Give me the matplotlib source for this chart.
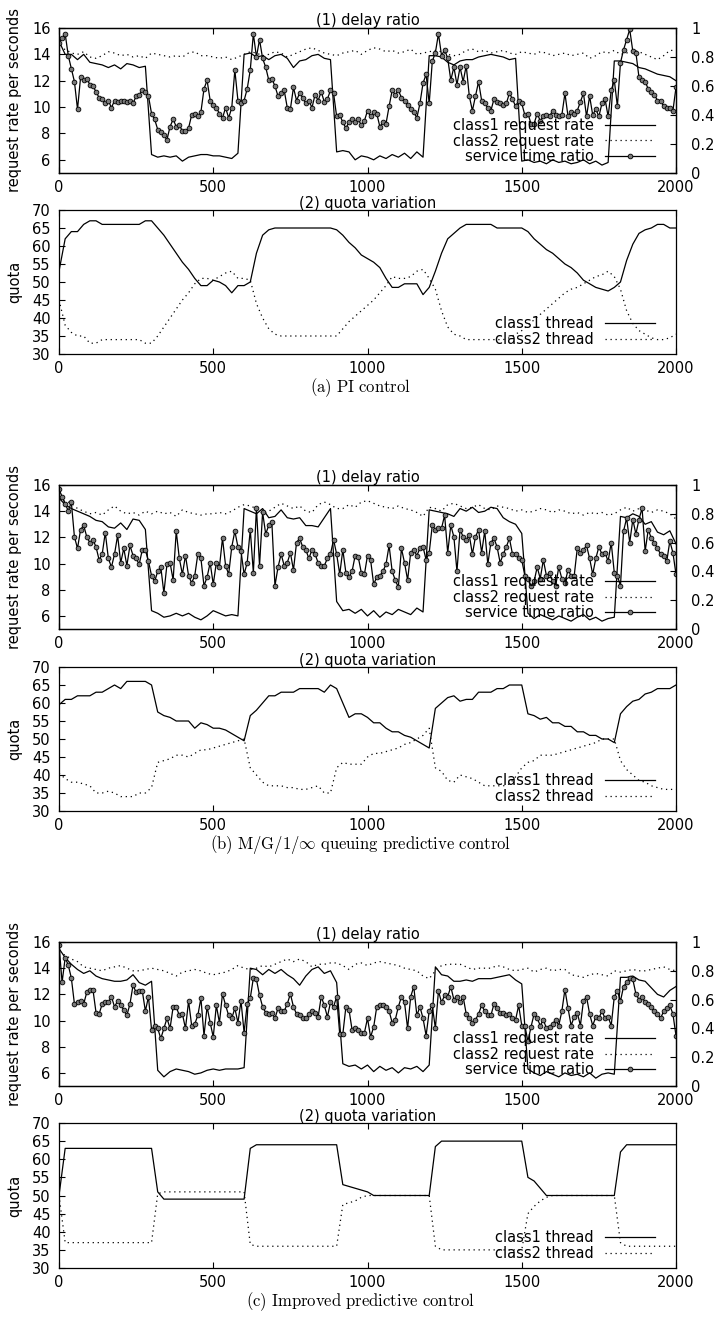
import matplotlib.pyplot as plt
import numpy as np
from matplotlib.ticker import FixedFormatter, FixedLocator

plt.rcParams['font.family'] = ['DejaVu Sans']
plt.rcParams['mathtext.fontset'] = 'cm'
plt.rcParams['font.size'] = 10.5

# ---- donnees communes ----
X_TICKS = [0, 500, 1000, 1500, 2000]
RATE_TICKS = [6, 8, 10, 12, 14, 16]
RATIO_TICKS = [0, 0.2, 0.4, 0.6, 0.8, 1]
RATIO_LABELS = ['0', '0.2', '0.4', '0.6', '0.8', '1']
QUOTA_TICKS = [30, 35, 40, 45, 50, 55, 60, 65, 70]
LEG_HAUT = ['class1 request rate', 'class2 request rate', 'service time ratio']
LEG_BAS = ['class1 thread', 'class2 thread']
CAPTIONS = [r'$\mathrm{(a)\ PI\ control}$',
            r'$\mathrm{(b)\ M/G/1/}\infty\mathrm{\ queuing\ predictive\ control}$',
            r'$\mathrm{(c)\ Improved\ predictive\ control}$']
STEP_RATE = 20   # pas des series de debit et de quota
STEP_RATIO = 10  # pas de la serie service time ratio

# ---- (a) PI control ----
a_c1 = [15.0, 14.0, 14.0, 13.6, 14.0, 13.4, 13.3, 13.2, 13.0, 13.2,
        12.9, 13.3, 13.2, 13.0, 13.1, 6.4, 6.2, 6.3, 6.2, 6.3,
        5.9, 6.2, 6.3, 6.4, 6.4, 6.3, 6.3, 6.2, 6.1, 6.5,
        14.0, 14.1, 13.8, 13.9, 13.6, 13.9, 14.0, 13.7, 13.0, 13.5,
        13.6, 13.9, 14.0, 13.7, 13.6, 6.6, 6.7, 6.6, 6.0, 6.3,
        6.2, 6.0, 6.3, 6.1, 6.4, 6.2, 6.5, 6.1, 6.6, 6.2,
        13.9, 13.9, 13.8, 13.4, 13.2, 13.5, 13.6, 13.6, 13.8, 13.9,
        14.0, 13.9, 13.8, 13.6, 13.7, 5.9, 6.0, 5.8, 5.9, 5.7,
        6.0, 5.8, 5.9, 5.7, 5.8, 6.0, 5.7, 5.9, 5.6, 5.8,
        13.5, 13.5, 13.4, 13.3, 13.0, 12.9, 12.7, 12.5, 12.4, 12.3,
        12.0]
a_c2 = [14.3, 14.4, 14.1, 14.0, 14.2, 13.8, 13.7, 13.9, 14.2, 14.1,
        13.9, 14.0, 13.8, 13.9, 13.7, 14.1, 14.0, 13.9, 13.8, 13.9,
        13.8, 14.1, 14.2, 13.9, 13.9, 13.8, 13.7, 13.8, 13.6, 13.8,
        14.0, 14.2, 14.1, 13.9, 14.0, 14.2, 14.1, 13.8, 14.0, 14.2,
        14.4, 14.5, 14.3, 14.1, 14.0, 13.9, 14.1, 14.2, 14.3, 14.0,
        14.3, 14.5, 14.4, 14.2, 14.3, 14.1, 14.2, 14.4, 14.0, 14.1,
        14.2, 14.3, 14.2, 14.0, 13.9, 14.0, 14.3, 14.4, 14.2, 14.3,
        14.1, 14.2, 14.3, 14.1, 14.0, 14.2, 14.1, 14.0, 14.2, 14.1,
        13.9, 14.0, 14.1, 13.9, 14.0, 14.1, 13.7, 13.9, 14.2, 14.1,
        14.3, 14.0, 14.1, 14.3, 14.2, 14.0, 13.8, 13.6, 13.9, 14.3,
        14.3]
a_ratio = [0.90, 0.93, 0.96, 0.81, 0.72, 0.63, 0.44, 0.66, 0.64, 0.65,
           0.61, 0.60, 0.56, 0.52, 0.51, 0.48, 0.50, 0.45, 0.50, 0.49,
           0.50, 0.50, 0.49, 0.50, 0.48, 0.53, 0.54, 0.57, 0.56, 0.53,
           0.41, 0.37, 0.30, 0.28, 0.26, 0.23, 0.32, 0.37, 0.32, 0.33,
           0.29, 0.29, 0.31, 0.40, 0.41, 0.39, 0.42, 0.58, 0.64, 0.50,
           0.47, 0.45, 0.41, 0.38, 0.45, 0.38, 0.45, 0.71, 0.50, 0.48,
           0.50, 0.58, 0.71, 0.96, 0.80, 0.92, 0.79, 0.73, 0.64, 0.65,
           0.60, 0.53, 0.55, 0.57, 0.45, 0.44, 0.59, 0.50, 0.55, 0.52,
           0.48, 0.50, 0.45, 0.54, 0.50, 0.56, 0.49, 0.51, 0.57, 0.55,
           0.39, 0.40, 0.35, 0.31, 0.35, 0.37, 0.35, 0.37, 0.33, 0.36,
           0.43, 0.39, 0.42, 0.41, 0.32, 0.35, 0.34, 0.46, 0.57, 0.54,
           0.57, 0.52, 0.50, 0.47, 0.44, 0.42, 0.38, 0.48, 0.62, 0.68,
           0.48, 0.77, 0.83, 0.96, 0.81, 0.85, 0.79, 0.64, 0.73, 0.61,
           0.73, 0.63, 0.74, 0.53, 0.43, 0.53, 0.63, 0.50, 0.48, 0.45,
           0.43, 0.51, 0.49, 0.48, 0.47, 0.48, 0.55, 0.51, 0.46, 0.50,
           0.48, 0.40, 0.41, 0.34, 0.34, 0.41, 0.36, 0.39, 0.40, 0.39,
           0.43, 0.40, 0.39, 0.40, 0.55, 0.39, 0.42, 0.41, 0.43, 0.49,
           0.55, 0.39, 0.53, 0.40, 0.44, 0.39, 0.48, 0.51, 0.39, 0.57,
           0.64, 0.46, 0.76, 0.85, 0.92, 0.99, 0.84, 0.83, 0.66, 0.64,
           0.63, 0.58, 0.56, 0.54, 0.50, 0.50, 0.46, 0.45, 0.45, 0.43,
           0.59]
a_q1 = [53, 62, 64, 64, 66, 67, 67, 66, 66, 66,
        66, 66, 66, 66, 67, 67, 65, 63, 60.5, 58,
        55.5, 53.5, 51, 49, 49, 50.5, 50, 49, 47, 49,
        49, 50, 58, 63, 64.5, 65, 65, 65, 65, 65,
        65, 65, 65, 65, 65, 64.5, 63, 61, 59.5, 57.5,
        56.5, 55.5, 54, 51, 48.5, 48.5, 49.5, 49.5, 49.5, 46.5,
        48.5, 53, 58, 62, 63.5, 65, 66, 66, 66, 66,
        66, 65, 65, 65, 65, 65, 64, 62, 60.5, 59,
        58, 56.5, 55, 54, 52.5, 50.5, 49.5, 48.5, 48, 47.5,
        48.5, 50, 56, 60.5, 63.5, 64.5, 65, 66, 66, 65,
        65]
a_q2 = [45, 38, 36, 35, 35, 33, 33, 34, 34, 34,
        34, 34, 34, 34, 33, 33, 35, 37.5, 40, 42.5,
        45, 47, 49.5, 51, 51, 50.5, 51.5, 52.5, 53, 51,
        51, 50.5, 44, 40, 37, 35.5, 35, 35, 35, 35,
        35, 35, 35, 35, 35, 35, 37, 39, 40.5, 42,
        43.5, 45, 47, 49, 51.5, 51, 51, 51.5, 53, 53.5,
        51, 48, 42, 37.5, 35.5, 35, 34, 34, 34, 34,
        34, 34, 34, 34.5, 35.5, 36.5, 38, 39.5, 41, 42.5,
        44, 45.5, 47, 48, 48.5, 49.5, 50.5, 51.5, 52, 53,
        51.5, 48, 42, 38.5, 36.5, 35.5, 34.5, 34, 34, 34.5,
        35.5]

# ---- (b) M/G/1 predictive control ----
b_c1 = [15.0, 14.5, 14.2, 14.0, 13.8, 13.6, 13.3, 13.2, 12.8, 12.7,
        13.1, 12.6, 13.4, 13.3, 12.6, 6.4, 6.2, 5.9, 6.0, 6.2,
        6.0, 6.2, 5.9, 5.7, 6.0, 6.4, 6.2, 6.0, 6.1, 6.0,
        14.2, 14.0, 13.8, 14.2, 13.5, 13.6, 14.1, 13.5, 13.4, 13.5,
        12.9, 12.9, 12.8, 13.5, 14.2, 7.1, 6.4, 6.5, 6.2, 6.5,
        6.0, 6.4, 5.9, 6.3, 6.1, 6.5, 6.3, 6.1, 6.6, 6.3,
        14.1, 14.0, 13.9, 13.8, 13.6, 14.2, 14.0, 14.3, 13.9, 14.0,
        14.3, 14.2, 13.5, 13.2, 13.0, 12.3, 6.2, 5.8, 6.1, 5.9,
        5.7, 6.0, 5.8, 5.6, 5.9, 6.1, 5.7, 5.9, 5.6, 5.8,
        5.9, 13.6, 13.5, 13.8, 13.6, 13.0, 13.2, 12.4, 12.2, 12.5,
        11.5]
b_c2 = [14.6, 14.8, 14.6, 14.2, 14.0, 13.8, 13.9, 13.7, 14.1, 14.4,
        14.0, 13.8, 13.9, 13.7, 14.0, 13.8, 14.0, 13.8, 13.9, 13.6,
        14.1, 13.9, 13.8, 13.7, 13.8, 13.8, 13.9, 13.8, 14.0, 14.3,
        14.5, 14.4, 14.2, 13.8, 14.0, 14.3, 14.6, 14.4, 14.2, 14.4,
        14.0, 13.9, 14.5, 14.7, 14.5, 14.2, 14.2, 14.5, 14.3, 14.7,
        14.8, 14.6, 14.4, 14.3, 14.2, 14.4, 14.2, 14.1, 13.9, 13.6,
        14.3, 14.2, 14.0, 14.5, 14.6, 14.4, 14.2, 14.3, 14.5, 14.2,
        14.1, 14.4, 14.3, 14.2, 14.0, 14.1, 13.9, 14.0, 14.2, 14.1,
        13.9, 14.1, 14.0, 13.8, 13.9, 13.7, 13.9, 13.8, 13.9, 13.7,
        13.8, 14.1, 14.3, 14.0, 14.2, 14.1, 13.9, 14.1, 14.0, 13.8,
        13.4]
b_ratio = [0.97, 0.92, 0.87, 0.82, 0.88, 0.64, 0.56, 0.69, 0.72, 0.64,
           0.60, 0.62, 0.57, 0.48, 0.52, 0.67, 0.49, 0.43, 0.52, 0.65,
           0.46, 0.56, 0.44, 0.58, 0.51, 0.49, 0.45, 0.55, 0.55, 0.47,
           0.37, 0.33, 0.40, 0.43, 0.25, 0.45, 0.46, 0.34, 0.68, 0.49,
           0.38, 0.51, 0.37, 0.32, 0.37, 0.52, 0.49, 0.30, 0.36, 0.46,
           0.31, 0.46, 0.43, 0.63, 0.44, 0.38, 0.57, 0.68, 0.57, 0.54,
           0.38, 0.46, 0.69, 0.39, 0.84, 0.44, 0.81, 0.66, 0.72, 0.74,
           0.30, 0.43, 0.52, 0.44, 0.46, 0.53, 0.41, 0.60, 0.63, 0.57,
           0.55, 0.49, 0.55, 0.52, 0.46, 0.44, 0.44, 0.49, 0.52, 0.62,
           0.52, 0.38, 0.55, 0.39, 0.36, 0.40, 0.51, 0.50, 0.39, 0.38,
           0.51, 0.48, 0.31, 0.36, 0.37, 0.40, 0.45, 0.58, 0.40, 0.34,
           0.29, 0.56, 0.46, 0.34, 0.53, 0.55, 0.51, 0.56, 0.57, 0.48,
           0.53, 0.72, 0.69, 0.70, 0.70, 0.79, 0.53, 0.72, 0.64, 0.40,
           0.69, 0.64, 0.62, 0.65, 0.52, 0.64, 0.69, 0.53, 0.68, 0.45,
           0.60, 0.63, 0.57, 0.46, 0.52, 0.57, 0.63, 0.52, 0.52, 0.49,
           0.48, 0.37, 0.35, 0.30, 0.33, 0.43, 0.35, 0.48, 0.37, 0.39,
           0.33, 0.30, 0.43, 0.35, 0.32, 0.41, 0.37, 0.37, 0.56, 0.53,
           0.55, 0.58, 0.49, 0.38, 0.49, 0.57, 0.52, 0.53, 0.47, 0.60,
           0.39, 0.37, 0.30, 0.68, 0.77, 0.60, 0.76, 0.66, 0.76, 0.84,
           0.54, 0.69, 0.63, 0.60, 0.56, 0.52, 0.51, 0.47, 0.61, 0.53,
           0.38]
b_q1 = [59.5, 61, 61, 62, 62, 62, 63, 63, 64, 65,
        64, 66, 66, 66, 66, 65, 57.5, 56.5, 56, 55,
        55, 55, 53, 54.5, 54, 53, 53, 52.5, 51.5, 50.5,
        49.5, 56.5, 58, 60, 62, 62, 63, 63, 63, 64,
        64, 64, 64, 63, 65, 64, 60, 56, 57, 57,
        56, 54.5, 54.5, 53, 52, 52, 51, 50.5, 49.5, 48.5,
        47.5, 58.5, 60, 61.5, 62, 60.5, 61, 61, 63, 63,
        63, 64, 64, 65, 65, 65, 57, 56.5, 55.5, 56,
        54.5, 54.5, 53.5, 53.5, 52, 52, 51, 51, 50, 50,
        49, 57, 59, 60.5, 61, 62.5, 63, 64, 64, 64,
        65]
b_q2 = [40.5, 39, 38, 38, 37.5, 37, 35, 35, 35.5, 35,
        34, 34, 34, 35, 35, 36.5, 43.5, 44, 44.5, 45.5,
        45.5, 45, 46, 47, 47, 47.5, 48, 48.5, 49, 49.5,
        50, 42, 40, 38, 37, 37, 37, 36.5, 36.5, 36,
        36, 36.5, 37, 35, 35, 42, 43.5, 43, 43, 43,
        45, 46, 46, 46.5, 47, 47.5, 48.5, 49, 50, 51,
        53, 42, 41, 38.5, 38, 40, 39.5, 39, 38, 37,
        37, 37, 37, 37.5, 39.5, 42, 43.5, 44, 45.5, 45.5,
        45.5, 46, 46.5, 47, 47.5, 48, 48.5, 49, 50, 50,
        50, 44, 41.5, 40, 38.5, 38, 37, 36.5, 36, 36,
        36]

# ---- (c) Improved predictive control ----
c_c1 = [15.5, 14.8, 14.3, 13.9, 13.6, 13.8, 13.4, 13.2, 13.1, 13.0,
        13.0, 13.1, 13.5, 12.9, 12.7, 13.0, 6.2, 5.7, 6.1, 6.3,
        6.2, 6.1, 5.9, 6.0, 6.2, 6.3, 6.2, 6.3, 6.3, 6.3,
        6.4, 14.0, 13.9, 13.5, 13.9, 13.6, 13.9, 13.5, 13.2, 12.7,
        13.4, 13.9, 14.1, 13.6, 13.8, 12.9, 6.7, 6.5, 6.6, 6.3,
        6.6, 6.1, 6.5, 6.2, 6.4, 6.0, 6.4, 6.3, 6.5, 6.1,
        6.6, 14.1, 13.5, 13.4, 13.0, 13.0, 13.1, 13.0, 13.2, 13.2,
        13.2, 13.3, 13.4, 13.5, 13.1, 12.8, 6.3, 6.0, 5.8, 6.1,
        5.9, 5.7, 6.0, 5.8, 5.9, 5.7, 6.0, 5.6, 5.9, 6.0,
        5.9, 13.3, 13.3, 13.4, 13.1, 13.0, 12.5, 12.0, 11.8, 12.3,
        12.6]
c_c2 = [15.2, 15.0, 14.7, 14.5, 14.1, 14.0, 13.9, 13.8, 14.0, 14.1,
        14.2, 14.0, 13.8, 13.8, 13.9, 14.0, 13.9, 13.8, 13.6, 13.4,
        13.7, 13.8, 13.9, 13.8, 13.6, 13.5, 13.6, 13.7, 13.9, 14.2,
        14.0, 13.9, 14.0, 14.2, 14.1, 14.3, 14.5, 14.7, 14.5, 14.7,
        14.5, 14.1, 14.3, 14.3, 14.4, 14.4, 14.2, 13.9, 14.3, 14.4,
        14.2, 14.4, 14.5, 14.4, 14.3, 14.2, 14.0, 13.9, 13.8, 13.4,
        13.2, 13.8, 14.2, 14.3, 14.3, 14.3, 14.1, 13.9, 14.0, 14.0,
        14.0, 14.2, 14.1, 13.9, 13.8, 13.9, 14.0, 13.7, 13.9, 14.0,
        13.8, 13.9, 13.9, 13.5, 13.4, 13.3, 13.5, 13.6, 13.5, 13.4,
        13.8, 13.7, 13.8, 13.9, 13.8, 13.8, 13.9, 14.0, 14.1, 13.9,
        13.8]
c_ratio = [0.98, 0.72, 0.89, 0.84, 0.75, 0.57, 0.58, 0.59, 0.57, 0.65,
           0.67, 0.67, 0.51, 0.50, 0.57, 0.58, 0.58, 0.62, 0.55, 0.59,
           0.56, 0.53, 0.49, 0.57, 0.70, 0.65, 0.66, 0.66, 0.52, 0.62,
           0.39, 0.42, 0.40, 0.33, 0.40, 0.47, 0.40, 0.55, 0.55, 0.49,
           0.50, 0.40, 0.59, 0.42, 0.43, 0.49, 0.61, 0.35, 0.55, 0.44,
           0.34, 0.56, 0.44, 0.64, 0.56, 0.49, 0.47, 0.54, 0.44, 0.59,
           0.37, 0.57, 0.61, 0.75, 0.74, 0.63, 0.55, 0.51, 0.50, 0.51,
           0.47, 0.54, 0.52, 0.52, 0.57, 0.64, 0.55, 0.50, 0.49, 0.47,
           0.47, 0.50, 0.52, 0.51, 0.48, 0.62, 0.56, 0.48, 0.58, 0.55,
           0.62, 0.36, 0.36, 0.55, 0.53, 0.39, 0.40, 0.39, 0.37, 0.37,
           0.47, 0.34, 0.41, 0.55, 0.56, 0.56, 0.55, 0.52, 0.44, 0.46,
           0.55, 0.62, 0.58, 0.40, 0.62, 0.69, 0.49, 0.55, 0.47, 0.35,
           0.52, 0.56, 0.40, 0.66, 0.58, 0.63, 0.62, 0.69, 0.60, 0.62,
           0.58, 0.62, 0.50, 0.47, 0.44, 0.46, 0.50, 0.56, 0.52, 0.49,
           0.49, 0.57, 0.54, 0.51, 0.51, 0.49, 0.50, 0.47, 0.46, 0.56,
           0.42, 0.42, 0.31, 0.41, 0.50, 0.47, 0.42, 0.46, 0.40, 0.41,
           0.43, 0.46, 0.42, 0.52, 0.67, 0.54, 0.42, 0.48, 0.51, 0.42,
           0.59, 0.62, 0.50, 0.42, 0.48, 0.47, 0.52, 0.47, 0.48, 0.42,
           0.62, 0.66, 0.59, 0.69, 0.72, 0.75, 0.74, 0.64, 0.60, 0.62,
           0.58, 0.57, 0.55, 0.52, 0.50, 0.47, 0.52, 0.54, 0.56, 0.50,
           0.35]
c_q1 = [50, 63, 63, 63, 63, 63, 63, 63, 63, 63,
        63, 63, 63, 63, 63, 63, 51, 49, 49, 49,
        49, 49, 49, 49, 49, 49, 49, 49, 49, 49,
        49, 63, 64, 64, 64, 64, 64, 64, 64, 64,
        64, 64, 64, 64, 64, 64, 53, 52.5, 52, 51.5,
        51, 50, 50, 50, 50, 50, 50, 50, 50, 50,
        50, 63.5, 65, 65, 65, 65, 65, 65, 65, 65,
        65, 65, 65, 65, 65, 65, 55, 54, 52, 50,
        50, 50, 50, 50, 50, 50, 50, 50, 50, 50,
        50, 62, 64, 64, 64, 64, 64, 64, 64, 64,
        64]
c_q2 = [50, 37, 37, 37, 37, 37, 37, 37, 37, 37,
        37, 37, 37, 37, 37, 37, 50.5, 51, 51, 51,
        51, 51, 51, 51, 51, 51, 51, 51, 51, 51,
        51, 36.5, 36, 36, 36, 36, 36, 36, 36, 36,
        36, 36, 36, 36, 36, 36, 47.5, 48, 48.5, 49.5,
        50, 50, 50, 50, 50, 50, 50, 50, 50, 50,
        50, 36, 35, 35, 35, 35, 35, 35, 35, 35,
        35, 35, 35, 35, 35, 35, 45, 47, 48.5, 49.5,
        50, 50, 50, 50, 50, 50, 50, 50, 50, 50,
        50, 37, 36, 36, 36, 36, 36, 36, 36, 36,
        36]

DOTTED = (0, (1, 3))


def panneau(fig, rect_haut, rect_bas, c1, c2, ratio, q1, q2):
    x_rate = np.arange(len(c1)) * STEP_RATE
    x_ratio = np.arange(len(ratio)) * STEP_RATIO
    x_q = np.arange(len(q1)) * STEP_RATE

    # (1) delay ratio
    ax = fig.add_axes(rect_haut)
    l1, = ax.plot(x_rate, c1, color='black', lw=0.9)
    l2, = ax.plot(np.arange(len(c2)) * STEP_RATE, c2, color='black', lw=0.9, ls=DOTTED)
    ax.set_xlim(0, 2000)
    ax.set_ylim(5, 16)
    ax.set_xticks(X_TICKS)
    ax.set_yticks(RATE_TICKS)
    ax.tick_params(direction='in', length=4.5, width=0.8, top=True, right=False)
    ax.tick_params(axis='x', pad=5)
    ax.tick_params(axis='y', pad=6)
    ax.set_ylabel('request rate per seconds')
    ax.yaxis.set_label_coords(-0.06, 0.5)
    ax.set_title('(1) delay ratio', pad=1.5, fontsize=10.5)

    ax2 = ax.twinx()
    l3, = ax2.plot(x_ratio, ratio, color='black', lw=0.9, marker='o', ms=3.4,
                   mfc='#7a7a7a', mec='black', mew=0.6)
    ax2.set_ylim(0, 1)
    ax2.yaxis.set_major_locator(FixedLocator(RATIO_TICKS))
    ax2.yaxis.set_major_formatter(FixedFormatter(RATIO_LABELS))
    ax2.tick_params(axis='y', direction='in', length=4.5, width=0.8, pad=11)
    ax2.legend([l1, l2, l3], LEG_HAUT, loc='lower right', bbox_to_anchor=(0.966, 0.06),
               frameon=False, markerfirst=False, handlelength=3.4, handletextpad=0.8,
               labelspacing=0.05, borderpad=0, borderaxespad=0)
    for a in (ax, ax2):
        for s in a.spines.values():
            s.set_linewidth(0.9)

    # (2) quota variation
    axq = fig.add_axes(rect_bas)
    m1, = axq.plot(x_q, q1, color='black', lw=0.9)
    m2, = axq.plot(np.arange(len(q2)) * STEP_RATE, q2, color='black', lw=0.9, ls=DOTTED)
    axq.set_xlim(0, 2000)
    axq.set_ylim(30, 70)
    axq.set_xticks(X_TICKS)
    axq.set_yticks(QUOTA_TICKS)
    axq.tick_params(direction='in', length=4.5, width=0.8, top=True, right=False)
    axq.tick_params(axis='x', pad=5)
    axq.tick_params(axis='y', pad=6)
    axq.set_ylabel('quota', labelpad=0)
    axq.yaxis.set_label_coords(-0.06, 0.5)
    axq.set_title('(2) quota variation', pad=1.5, fontsize=10.5)
    axq.legend([m1, m2], LEG_BAS, loc='lower right', bbox_to_anchor=(0.966, 0.05),
               frameon=False, markerfirst=False, handlelength=3.4, handletextpad=0.8,
               labelspacing=0.05, borderpad=0, borderaxespad=0)
    for s in axq.spines.values():
        s.set_linewidth(0.9)


fig = plt.figure(figsize=(7.16, 13.38), dpi=100)
L, W = 59 / 716, 617 / 716
H = 1338.0
panneaux = [
    ((28, 173), (210, 354), a_c1, a_c2, a_ratio, a_q1, a_q2, 388),
    ((485, 629), (667, 811), b_c1, b_c2, b_ratio, b_q1, b_q2, 845),
    ((942, 1086), (1123, 1268), c_c1, c_c2, c_ratio, c_q1, c_q2, 1302),
]
for (t1, b1), (t2, b2), c1, c2, r, q1, q2, ycap in panneaux:
    panneau(fig,
            [L, 1 - b1 / H, W, (b1 - t1) / H],
            [L, 1 - b2 / H, W, (b2 - t2) / H],
            c1, c2, r, q1, q2)

for cap, (*_, ycap) in zip(CAPTIONS, panneaux):
    fig.text(0.503, 1 - ycap / H, cap, ha='center', va='center', fontsize=12)

fig.savefig('out.png', dpi=100)
